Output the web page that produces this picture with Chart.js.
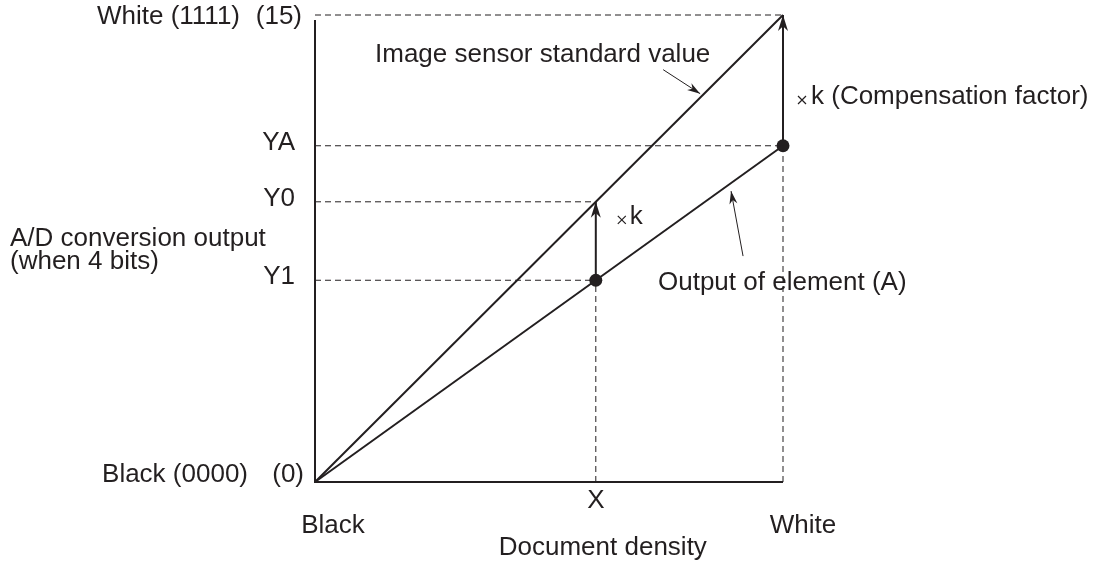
<!DOCTYPE html>
<html>
<head>
<meta charset="utf-8">
<script src="https://cdn.jsdelivr.net/npm/chart.js@4.4.1/dist/chart.umd.min.js"></script>
<style>
  html, body { margin: 0; padding: 0; background: #ffffff; }
  #wrap { width: 1101px; height: 562px; }
</style>
</head>
<body>
<div id="wrap"><canvas id="c" width="1101" height="562"></canvas></div>
<script>
// ---- data ----
const xCategories = ['Black', 'X', 'White'];
const xValues = [0, 0.6, 1];
const yMin = 0, yMax = 15;
const yEndLabels = ['Black (0000)', 'White (1111)'];
const yEndCodes = ['(0)', '(15)'];
const yTickLabels = ['Y1', 'Y0', 'YA'];
const yTickValues = [6.48, 9, 10.8];
const standardValues = [0, 15];      // image sensor standard value at Black, White
const elementValues = [0, 10.8];     // output of element (A) at Black, White
const measuredX = [0.6, 1];          // X and White
const measuredY = [6.48, 10.8];      // Y1, YA
const compensatedY = [9, 15];        // Y0, 15
const xAxisTitle = 'Document density';
const yAxisTitle = ['A/D conversion output', '(when 4 bits)'];
const noteStandard = 'Image sensor standard value';
const noteElement = 'Output of element (A)';
const noteK = 'k';
const noteKFull = 'k (Compensation factor)';

const INK = '#231f20';
const FONT = '26px "Liberation Sans", Arial, sans-serif';

function seg(x0, y0, x1, y1) { return [{x: x0, y: y0}, {x: x1, y: y1}]; }
function dashed(data) {
  return { data, showLine: true, borderColor: INK, borderWidth: 1, borderDash: [6, 4],
           pointRadius: 0, fill: false, clip: false };
}

const datasets = [
  { data: seg(0, standardValues[0], 1, standardValues[1]), showLine: true, borderColor: INK,
    borderWidth: 2, pointRadius: 0, fill: false, clip: false },
  { data: seg(0, elementValues[0], 1, elementValues[1]), showLine: true, borderColor: INK,
    borderWidth: 2, pointRadius: 0, fill: false, clip: false },
  dashed(seg(0, yMax, 1, yMax)),
  dashed(seg(0, yTickValues[2], measuredX[1], yTickValues[2])),
  dashed(seg(0, yTickValues[1], measuredX[0], yTickValues[1])),
  dashed(seg(0, yTickValues[0], measuredX[0], yTickValues[0])),
  dashed(seg(measuredX[0], 0, measuredX[0], measuredY[0])),
  dashed(seg(measuredX[1], 0, measuredX[1], measuredY[1])),
  { data: measuredX.map((x, i) => ({x, y: measuredY[i]})), showLine: false, clip: false,
    pointRadius: 6.5, pointBackgroundColor: INK, pointBorderColor: INK, pointBorderWidth: 0 }
];

function arrowHead(ctx, x0, y0, x1, y1, len, half) {
  const a = Math.atan2(y1 - y0, x1 - x0);
  const c = Math.cos(a), s = Math.sin(a);
  ctx.beginPath();
  ctx.moveTo(x1, y1);
  ctx.lineTo(x1 - len * c + half * s, y1 - len * s - half * c);
  ctx.lineTo(x1 - len * 0.7 * c, y1 - len * 0.7 * s);
  ctx.lineTo(x1 - len * c - half * s, y1 - len * s + half * c);
  ctx.closePath();
  ctx.fill();
}
function arrow(ctx, x0, y0, x1, y1, w, len, half) {
  ctx.lineWidth = w;
  ctx.beginPath();
  ctx.moveTo(x0, y0);
  ctx.lineTo(x1, y1);
  ctx.stroke();
  arrowHead(ctx, x0, y0, x1, y1, len, half);
}
function times(ctx, cx, cy, r) {
  ctx.lineWidth = 1.2;
  ctx.beginPath();
  ctx.moveTo(cx - r, cy - r); ctx.lineTo(cx + r, cy + r);
  ctx.moveTo(cx + r, cy - r); ctx.lineTo(cx - r, cy + r);
  ctx.stroke();
}

const decor = {
  id: 'decor',
  afterDatasetsDraw(chart) {
    const ctx = chart.ctx;
    const xs = chart.scales.x, ys = chart.scales.y;
    const X = v => xs.getPixelForValue(v), Y = v => ys.getPixelForValue(v);
    ctx.save();
    ctx.strokeStyle = INK; ctx.fillStyle = INK;
    // axes
    ctx.lineWidth = 2;
    ctx.beginPath();
    ctx.moveTo(X(0), Y(yMax) + 5); ctx.lineTo(X(0), Y(0)); ctx.lineTo(X(1), Y(0));
    ctx.stroke();
    // compensation arrows
    for (let i = 0; i < measuredX.length; i++) {
      arrow(ctx, X(measuredX[i]), Y(measuredY[i]), X(measuredX[i]), Y(compensatedY[i]), 2, 16, 5);
    }
    // leader arrows
    const sx = 0.823, sy = standardValues[1] * sx;
    arrow(ctx, X(sx) - 37, Y(sy) - 28, X(sx), Y(sy) - 4, 1, 13, 4);
    const ex = 0.889, ey = elementValues[1] * ex;
    arrow(ctx, X(ex) + 12, Y(ey) + 73, X(ex), Y(ey) + 8, 1, 13, 4);

    // text
    ctx.font = FONT;
    ctx.textBaseline = 'middle';
    ctx.textAlign = 'right';
    ctx.fillText(yEndLabels[1], X(0) - 75, Y(yMax) + 2);
    ctx.fillText(yEndCodes[1], X(0) - 13, Y(yMax) + 2);
    ctx.fillText(yEndLabels[0], X(0) - 67, Y(0) - 7);
    ctx.fillText(yEndCodes[0], X(0) - 11, Y(0) - 7);
    for (let i = 0; i < yTickLabels.length; i++) {
      ctx.fillText(yTickLabels[i], X(0) - 20, Y(yTickValues[i]) - 3);
    }
    ctx.textAlign = 'left';
    ctx.fillText(yAxisTitle[0], 10, 239);
    ctx.fillText(yAxisTitle[1], 10, 262);
    // x labels
    ctx.textAlign = 'center';
    ctx.fillText(xCategories[0], X(xValues[0]) + 18, Y(0) + 44);
    ctx.fillText(xCategories[1], X(xValues[1]), Y(0) + 19);
    ctx.fillText(xCategories[2], X(xValues[2]) + 20, Y(0) + 44);
    ctx.fillText(xAxisTitle, X(xValues[1]) + 7, Y(0) + 66);
    // notes
    ctx.textAlign = 'left';
    ctx.fillText(noteStandard, 375, 55);
    ctx.fillText(noteElement, 658, 283);
    times(ctx, X(measuredX[0]) + 26, Y(compensatedY[0]) + 18, 4);
    ctx.fillText(noteK, X(measuredX[0]) + 34, Y(compensatedY[0]) + 15);
    times(ctx, X(measuredX[1]) + 19, Y(compensatedY[1]) + 85, 4);
    ctx.fillText(noteKFull, X(measuredX[1]) + 28, Y(compensatedY[1]) + 82);
    ctx.restore();
  }
};

new Chart(document.getElementById('c'), {
  type: 'scatter',
  data: { datasets },
  options: {
    responsive: false,
    animation: false,
    layout: { padding: { left: 315, right: 318, top: 15, bottom: 80 } },
    plugins: { legend: { display: false }, tooltip: { enabled: false } },
    scales: {
      x: { type: 'linear', min: 0, max: 1, display: false },
      y: { type: 'linear', min: yMin, max: yMax, display: false }
    }
  },
  plugins: [decor]
});
</script>
</body>
</html>
